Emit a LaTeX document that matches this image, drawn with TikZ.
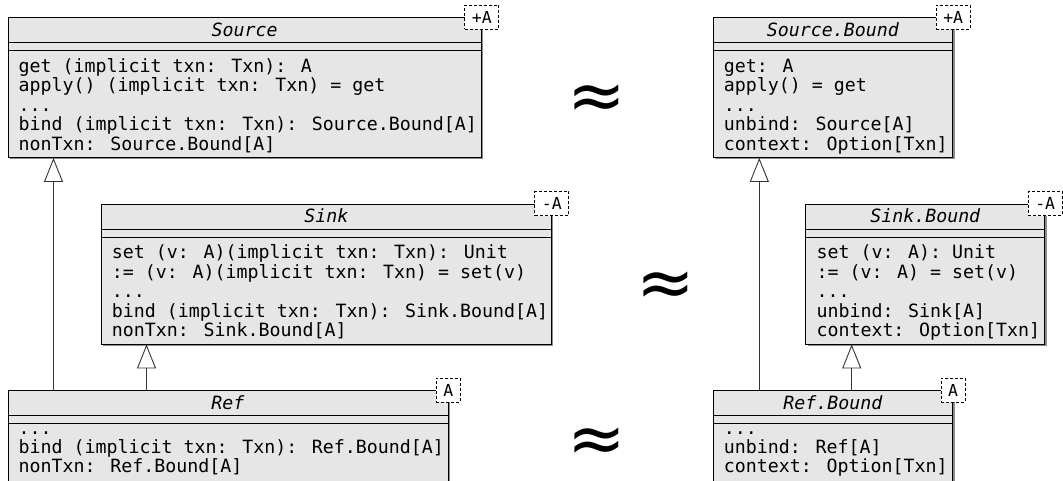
\documentclass[tikz,border=0pt]{standalone}
\usepackage{fontspec}
\usetikzlibrary{arrows.meta,shadows}
\newfontfamily\umlmono{DejaVu Sans Mono}
\newfontfamily\apxfont{DejaVu Sans}
\definecolor{clsfill}{HTML}{E6E6E6}
\definecolor{clsshadow}{HTML}{8C8C8C}
\tikzset{
  cls/.style={draw=black, fill=clsfill, line width=0.9pt, inner sep=0pt, anchor=north west,
    drop shadow={shadow xshift=2pt, shadow yshift=-2pt, fill=clsshadow, opacity=1}},
  sepline/.style={draw=black, line width=0.9pt},
  clstitle/.style={anchor=base, inner sep=0pt, font=\umlmono\itshape\fontsize{18.27}{19.5}\selectfont},
  ln/.style={anchor=base west, inner sep=0pt, font=\umlmono\fontsize{18.27}{19.5}\selectfont},
  tmpl/.style={draw=black, dashed, dash pattern=on 3pt off 2pt, fill=white, line width=1pt,
    inner xsep=7pt, inner ysep=0pt, minimum height=24pt, font=\umlmono\fontsize{16.5}{16.5}\selectfont},
  inh/.style={draw=black!80, line width=0.9pt, -{Triangle[length=24pt,width=19pt,fill=white,line width=0.9pt]}},
  apx/.style={anchor=base, inner sep=0pt, font=\apxfont\fontsize{70}{70}\selectfont}
}
\begin{document}
\begin{tikzpicture}[x=1pt,y=-1pt]
\useasboundingbox (0,0) rectangle (1063,480);

% ---------- Source ----------
\node[cls, minimum width=473.5pt, minimum height=140pt] (src) at (7.5,17) {};
\draw[sepline] ([yshift=-25.5pt]src.north west) -- ([yshift=-25.5pt]src.north east);
\draw[sepline] ([yshift=-33.5pt]src.north west) -- ([yshift=-33.5pt]src.north east);
\node[clstitle] (srct) at ([yshift=-19pt]src.north) {Source};
\node[ln] (src1) at ([xshift=11pt,yshift=-55pt]src.north west) {get (implicit txn: Txn): A};
\node[ln] (src2) at ([xshift=11pt,yshift=-74.5pt]src.north west) {apply() (implicit txn: Txn) = get};
\node[ln] (src3) at ([xshift=11pt,yshift=-94pt]src.north west) {...};
\node[ln] (src4) at ([xshift=11pt,yshift=-113.5pt]src.north west) {bind (implicit txn: Txn): Source.Bound[A]};
\node[ln] (src5) at ([xshift=11pt,yshift=-133pt]src.north west) {nonTxn: Source.Bound[A]};
\node[tmpl] (srcA) at (src.north east) {+A};

% ---------- Sink ----------
\node[cls, minimum width=450.3pt, minimum height=140pt] (snk) at (100.7,203.5) {};
\draw[sepline] ([yshift=-25.5pt]snk.north west) -- ([yshift=-25.5pt]snk.north east);
\draw[sepline] ([yshift=-33.5pt]snk.north west) -- ([yshift=-33.5pt]snk.north east);
\node[clstitle] (snkt) at ([yshift=-19pt]snk.north) {Sink};
\node[ln] (snk1) at ([xshift=11pt,yshift=-55pt]snk.north west) {set (v: A)(implicit txn: Txn): Unit};
\node[ln] (snk2) at ([xshift=11pt,yshift=-74.5pt]snk.north west) {:= (v: A)(implicit txn: Txn) = set(v)};
\node[ln] (snk3) at ([xshift=11pt,yshift=-94pt]snk.north west) {...};
\node[ln] (snk4) at ([xshift=11pt,yshift=-113.5pt]snk.north west) {bind (implicit txn: Txn): Sink.Bound[A]};
\node[ln] (snk5) at ([xshift=11pt,yshift=-133pt]snk.north west) {nonTxn: Sink.Bound[A]};
\node[tmpl] (snkA) at (snk.north east) {-A};

% ---------- Ref ----------
\node[cls, minimum width=440pt, minimum height=92pt] (ref) at (7.5,390) {};
\draw[sepline] ([yshift=-25.5pt]ref.north west) -- ([yshift=-25.5pt]ref.north east);
\draw[sepline] ([yshift=-33.5pt]ref.north west) -- ([yshift=-33.5pt]ref.north east);
\node[clstitle] (reft) at ([yshift=-19.5pt]ref.north) {Ref};
\node[ln] (ref1) at ([xshift=11pt,yshift=-44pt]ref.north west) {...};
\node[ln] (ref2) at ([xshift=11pt,yshift=-63pt]ref.north west) {bind (implicit txn: Txn): Ref.Bound[A]};
\node[ln] (ref3) at ([xshift=11pt,yshift=-82pt]ref.north west) {nonTxn: Ref.Bound[A]};
\node[tmpl] (refA) at (ref.north east) {A};

% ---------- Source.Bound ----------
\node[cls, minimum width=239.6pt, minimum height=140pt] (sb) at (712.7,17) {};
\draw[sepline] ([yshift=-25.5pt]sb.north west) -- ([yshift=-25.5pt]sb.north east);
\draw[sepline] ([yshift=-33.5pt]sb.north west) -- ([yshift=-33.5pt]sb.north east);
\node[clstitle] (sbt) at ([yshift=-19pt]sb.north) {Source.Bound};
\node[ln] (sb1) at ([xshift=11pt,yshift=-55pt]sb.north west) {get: A};
\node[ln] (sb2) at ([xshift=11pt,yshift=-74.5pt]sb.north west) {apply() = get};
\node[ln] (sb3) at ([xshift=11pt,yshift=-94pt]sb.north west) {...};
\node[ln] (sb4) at ([xshift=11pt,yshift=-113.5pt]sb.north west) {unbind: Source[A]};
\node[ln] (sb5) at ([xshift=11pt,yshift=-133pt]sb.north west) {context: Option[Txn]};
\node[tmpl] (sbA) at (sb.north east) {+A};

% ---------- Sink.Bound ----------
\node[cls, minimum width=239pt, minimum height=140pt] (kb) at (805.3,203.5) {};
\draw[sepline] ([yshift=-25.5pt]kb.north west) -- ([yshift=-25.5pt]kb.north east);
\draw[sepline] ([yshift=-33.5pt]kb.north west) -- ([yshift=-33.5pt]kb.north east);
\node[clstitle] (kbt) at ([yshift=-19pt]kb.north) {Sink.Bound};
\node[ln] (kb1) at ([xshift=11pt,yshift=-55pt]kb.north west) {set (v: A): Unit};
\node[ln] (kb2) at ([xshift=11pt,yshift=-74.5pt]kb.north west) {:= (v: A) = set(v)};
\node[ln] (kb3) at ([xshift=11pt,yshift=-94pt]kb.north west) {...};
\node[ln] (kb4) at ([xshift=11pt,yshift=-113.5pt]kb.north west) {unbind: Sink[A]};
\node[ln] (kb5) at ([xshift=11pt,yshift=-133pt]kb.north west) {context: Option[Txn]};
\node[tmpl] (kbA) at (kb.north east) {-A};

% ---------- Ref.Bound ----------
\node[cls, minimum width=239.6pt, minimum height=92pt] (rb) at (712.7,390) {};
\draw[sepline] ([yshift=-25.5pt]rb.north west) -- ([yshift=-25.5pt]rb.north east);
\draw[sepline] ([yshift=-33.5pt]rb.north west) -- ([yshift=-33.5pt]rb.north east);
\node[clstitle] (rbt) at ([yshift=-19.5pt]rb.north) {Ref.Bound};
\node[ln] (rb1) at ([xshift=11pt,yshift=-44pt]rb.north west) {...};
\node[ln] (rb2) at ([xshift=11pt,yshift=-63pt]rb.north west) {unbind: Ref[A]};
\node[ln] (rb3) at ([xshift=11pt,yshift=-82pt]rb.north west) {context: Option[Txn]};
\node[tmpl] (rbA) at (rb.north east) {A};

% ---------- generalizations ----------
\draw[inh] ([xshift=46pt]ref.north west) -- ([xshift=46pt]ref.north west |- src.south);
\draw[inh] ([xshift=139pt]ref.north west) -- ([xshift=139pt]ref.north west |- snk.south);
\draw[inh] ([xshift=46.6pt]rb.north west) -- ([xshift=46.6pt]rb.north west |- sb.south);
\draw[inh] ([xshift=139pt]rb.north west) -- ([xshift=139pt]rb.north west |- kb.south);

% ---------- approx signs ----------
\node[apx] (ap1) at (597,119) {≈};
\node[apx] (ap2) at (665.5,306) {≈};
\node[apx] (ap3) at (596.5,462) {≈};
\end{tikzpicture}
\end{document}
